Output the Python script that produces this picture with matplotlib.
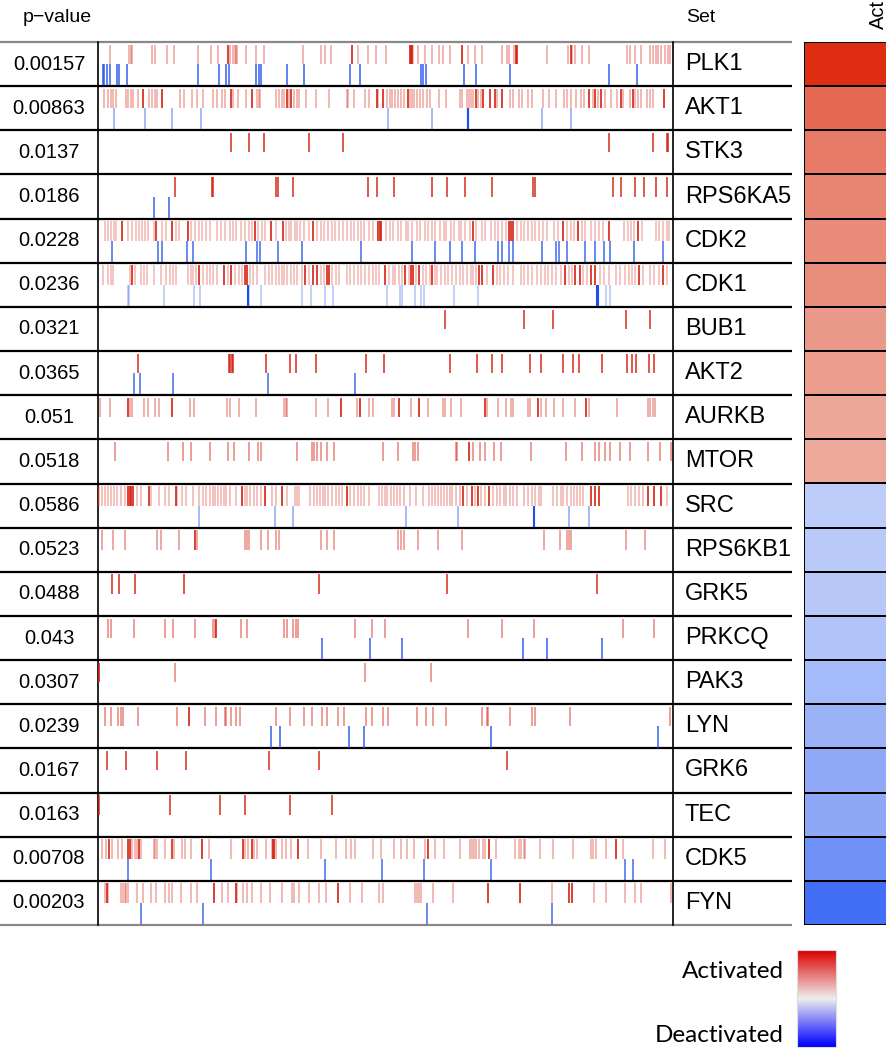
import numpy as np
import matplotlib
matplotlib.use("Agg")
import matplotlib.pyplot as plt
from matplotlib.colors import LinearSegmentedColormap

# kinase sets, p-values and direction (1 = activated, -1 = deactivated)
sets = ["PLK1", "AKT1", "STK3", "RPS6KA5", "CDK2", "CDK1", "BUB1", "AKT2", "AURKB", "MTOR",
        "SRC", "RPS6KB1", "GRK5", "PRKCQ", "PAK3", "LYN", "GRK6", "TEC", "CDK5", "FYN"]
pvals = ["0.00157", "0.00863", "0.0137", "0.0186", "0.0228", "0.0236", "0.0321", "0.0365", "0.051", "0.0518",
         "0.0586", "0.0523", "0.0488", "0.043", "0.0307", "0.0239", "0.0167", "0.0163", "0.00708", "0.00203"]
direction = [1, 1, 1, 1, 1, 1, 1, 1, 1, 1, -1, -1, -1, -1, -1, -1, -1, -1, -1, -1]

# site ranks (out of ~1560) for each set: up = red ticks, dn = blue ticks
plk1_up = [40, 92, 97, 101, 153, 163, 194, 214, 277, 313, 333, 366, 372, 377, 382, 385, 408, 434, 456, 563, 610,
           622, 638, 710, 738, 760, 786, 858, 874, 892, 912, 930, 940, 960, 1007, 1028, 1045, 1100, 1113, 1118,
           1133, 1222, 1278, 1289, 1298, 1315, 1336, 1439, 1445, 1460, 1475, 1500, 1508, 1515, 1522, 1530, 1540,
           1548, 1555]
plk1_up_dark = [360, 694, 851, 853, 856, 993, 1138, 1140, 1285]
plk1_dn = [22, 25, 33, 41, 58, 66, 87, 278, 335, 353, 362, 436, 442, 448, 518, 565, 690, 716, 880, 886, 894,
           998, 1030, 1122, 1390, 1464]

akt1_up = [25, 35, 42, 48, 57, 83, 90, 97, 103, 115, 145, 153, 161, 168, 230, 240, 263, 275, 293, 320, 330, 343,
           352, 372, 386, 408, 437, 443, 447, 490, 498, 505, 512, 524, 537, 545, 550, 570, 598, 632, 680, 685, 700,
           730, 740, 766, 790, 796, 803, 810, 818, 826, 834, 852, 856, 862, 870, 877, 885, 897, 905, 930, 948, 987,
           993, 1005, 1012, 1017, 1022, 1036, 1042, 1087, 1122, 1130, 1145, 1155, 1170, 1182, 1212, 1228, 1246,
           1268, 1276, 1286, 1300, 1313, 1322, 1345, 1360, 1379, 1395, 1410, 1428, 1447, 1460, 1468, 1476, 1491,
           1500, 1508]
akt1_up_dark = [130, 182, 368, 424, 518, 530, 762, 778, 846, 1030, 1048, 1068, 1082, 1100, 1336, 1352, 1368,
                1422, 1453, 1538]
akt1_dn = [50, 135, 208, 287, 792, 912, 1208, 1287]
akt1_dn_dark = [1007, 1009]

stk3_up = [368, 416, 457, 578, 671, 1390, 1507, 1545, 1549]

rps6ka5_up = [216, 316, 320, 490, 495, 536, 737, 762, 808, 910, 950, 999, 1072, 1183, 1190, 1400, 1421, 1460,
              1484, 1517, 1546]
rps6ka5_dn = [158, 200]

cdk2_up = [8, 28, 35, 42, 50, 57, 88, 100, 112, 120, 128, 135, 142, 160, 180, 193, 220, 228, 260, 270, 280, 290,
           300, 312, 330, 340, 350, 365, 372, 380, 394, 405, 415, 425, 440, 450, 460, 490, 515, 523, 530, 540, 545,
           555, 565, 578, 600, 610, 620, 630, 640, 648, 660, 670, 682, 692, 700, 710, 720, 728, 740, 752, 786, 797,
           806, 819, 827, 840, 846, 857, 871, 879, 893, 899, 912, 918, 931, 943, 948, 962, 969, 983, 990, 1001,
           1013, 1030, 1045, 1055, 1070, 1082, 1090, 1100, 1110, 1140, 1150, 1160, 1170, 1180, 1190, 1200, 1212,
           1222, 1240, 1250, 1275, 1285, 1295, 1315, 1325, 1340, 1350, 1362, 1372, 1430, 1440, 1448, 1456, 1478,
           1515, 1525, 1535, 1545, 1552]
cdk2_up_dark = [74, 165, 208, 252, 432, 476, 508, 588, 766, 770, 774, 1022, 1118, 1125, 1130, 1266, 1305, 1388,
                1468]
cdk2_dn = [45, 170, 182, 248, 266, 407, 437, 447, 495, 558, 720, 856, 920, 960, 991, 1028, 1090, 1099, 1119,
           1130, 1208, 1247, 1255, 1276, 1325, 1350, 1375, 1393, 1456, 1536]

cdk1_up = [22, 35, 42, 48, 95, 108, 125, 132, 140, 160, 178, 192, 202, 210, 218, 250, 258, 265, 272, 292, 302,
           310, 320, 330, 358, 378, 388, 396, 420, 428, 438, 460, 470, 478, 488, 496, 505, 512, 520, 530, 538, 545,
           560, 578, 610, 618, 640, 650, 660, 680, 690, 700, 710, 720, 730, 740, 752, 760, 768, 795, 805, 812, 822,
           830, 848, 868, 885, 895, 905, 918, 925, 935, 945, 955, 965, 975, 985, 995, 1005, 1015, 1022, 1030, 1058,
           1085, 1095, 1105, 1115, 1130, 1150, 1160, 1170, 1180, 1195, 1205, 1215, 1225, 1235, 1245, 1258, 1280,
           1290, 1320, 1330, 1365, 1375, 1390, 1408, 1420, 1432, 1443, 1450, 1460, 1480, 1500, 1512, 1525, 1545]
cdk1_up_dark = [100, 282, 348, 368, 405, 412, 568, 588, 600, 626, 632, 785, 838, 855, 860, 876, 912, 1038, 1045,
                1075, 1270, 1298, 1310, 1340, 1350, 1470, 1535]
cdk1_dn = [88, 92, 186, 268, 284, 415, 448, 558, 584, 622, 642, 790, 824, 830, 865, 882, 888, 970, 1035, 1380,
           1392]
cdk1_dn_dark = [413, 1357, 1360]

bub1_up = [945, 1158, 1239, 1434, 1499]

akt2_up = [117, 363, 366, 369, 372, 463, 528, 543, 597, 731, 780, 960, 1032, 1073, 1100, 1175, 1205, 1266, 1292,
           1307, 1370, 1437, 1450, 1462, 1496, 1512]
akt2_dn = [106, 121, 210, 467, 702]

aurkb_up = [14, 40, 94, 101, 131, 143, 163, 172, 256, 268, 356, 364, 389, 434, 510, 516, 520, 598, 630, 707,
            740, 750, 802, 808, 853, 900, 940, 945, 963, 990, 1058, 1090, 1110, 1125, 1130, 1170, 1175, 1206,
            1220, 1240, 1264, 1296, 1334, 1410, 1494, 1500, 1508, 1514]
aurkb_up_dark = [90, 209, 665, 717, 822, 876, 1054, 1196, 1328]

mtor_up = [55, 198, 237, 259, 310, 358, 375, 417, 440, 449, 547, 587, 592, 600, 610, 628, 647, 777, 820, 860,
           865, 872, 975, 978, 1022, 1040, 1055, 1077, 1096, 1178, 1274, 1315, 1352, 1362, 1377, 1392, 1420,
           1447, 1494, 1526, 1556]
mtor_up_dark = [1012]

src_up = [12, 20, 28, 35, 42, 50, 58, 70, 80, 114, 124, 150, 172, 188, 200, 222, 235, 247, 265, 282, 292, 300,
          310, 318, 325, 332, 340, 348, 355, 365, 380, 405, 412, 420, 430, 438, 448, 478, 490, 518, 540, 545, 550,
          580, 592, 600, 608, 615, 622, 630, 640, 650, 660, 668, 690, 700, 710, 720, 728, 740, 768, 775, 783, 790,
          800, 808, 816, 825, 835, 850, 868, 885, 902, 910, 918, 926, 935, 942, 950, 958, 966, 975, 985, 1005,
          1026, 1044, 1054, 1075, 1085, 1095, 1105, 1112, 1122, 1130, 1140, 1160, 1170, 1180, 1190, 1200, 1205,
          1238, 1248, 1258, 1266, 1275, 1285, 1295, 1302, 1310, 1320, 1440, 1448, 1460, 1470, 1480, 1545]
src_up_dark = [8, 90, 94, 98, 102, 147, 218, 398, 460, 505, 682, 995, 1018, 1034, 1066, 1340, 1352, 1363, 1495,
               1510, 1530]
src_dn = [280, 486, 536, 840, 981, 1282, 1335]
src_dn_dark = [1186]

rps6kb1_up = [18, 48, 80, 168, 179, 226, 276, 404, 412, 417, 448, 468, 490, 497, 610, 628, 645, 818, 828, 835,
              873, 926, 991, 1213, 1257, 1275, 1280, 1287, 1436, 1487]
rps6kb1_up_dark = [269]

grk5_up = [46, 64, 109, 240, 605, 951, 1357]

prkcq_up = [35, 42, 105, 188, 211, 270, 318, 323, 394, 410, 512, 519, 534, 542, 549, 703, 749, 785, 1008, 1100,
            1185, 1428, 1512]
prkcq_up_dark = [328]
prkcq_dn = [614, 743, 829, 1156, 1222, 1369]

pak3_up = [216, 729, 908]
pak3_up_dark = [12]

lyn_up = [28, 42, 63, 70, 75, 117, 222, 297, 327, 350, 355, 368, 380, 391, 489, 528, 564, 586, 613, 626, 656,
          674, 733, 749, 777, 793, 871, 894, 913, 948, 1047, 1058, 1062, 1121, 1182, 1189, 1283, 1553]
lyn_up_dark = [253]
lyn_dn = [476, 501, 686, 727, 1069, 1522]

grk6_up = [33, 84, 167, 245, 470, 605, 1114]

tec_up = [10, 203, 339, 404, 527, 641]

cdk5_up = [18, 30, 47, 62, 72, 100, 108, 114, 124, 158, 162, 167, 190, 213, 235, 243, 258, 308, 368, 404, 414,
           430, 437, 462, 477, 490, 505, 515, 530, 575, 612, 650, 677, 693, 703, 752, 772, 807, 828, 843, 862,
           892, 920, 942, 985, 1013, 1018, 1025, 1030, 1038, 1048, 1055, 1083, 1135, 1145, 1152, 1158, 1163, 1203,
           1238, 1292, 1340, 1346, 1355, 1380, 1427, 1508, 1540]
cdk5_up_dark = [38, 90, 94, 120, 208, 288, 400, 425, 480, 485, 548, 900, 1064, 1409]
cdk5_dn = [90, 313, 622, 775, 889, 1070, 1431, 1454]

fyn_up = [28, 35, 70, 75, 80, 85, 90, 114, 130, 150, 165, 190, 200, 208, 232, 260, 275, 343, 360, 384, 400,
          412, 425, 448, 472, 505, 532, 537, 550, 578, 604, 625, 690, 722, 767, 777, 864, 870, 875, 880, 914, 968,
          1236, 1348, 1380, 1433, 1460, 1475, 1556]
fyn_up_dark = [31, 322, 380, 656, 1062, 1148, 1282, 1290]
fyn_dn = [124, 292, 897, 1236]

# (up, up_dark, dn, dn_dark) per row, same order as sets
rows = [
    (plk1_up, plk1_up_dark, plk1_dn, []),
    (akt1_up, akt1_up_dark, akt1_dn, akt1_dn_dark),
    (stk3_up, [], [], []),
    (rps6ka5_up, [], rps6ka5_dn, []),
    (cdk2_up, cdk2_up_dark, cdk2_dn, []),
    (cdk1_up, cdk1_up_dark, cdk1_dn, cdk1_dn_dark),
    (bub1_up, [], [], []),
    (akt2_up, [], akt2_dn, []),
    (aurkb_up, aurkb_up_dark, [], []),
    (mtor_up, mtor_up_dark, [], []),
    (src_up, src_up_dark, src_dn, src_dn_dark),
    (rps6kb1_up, rps6kb1_up_dark, [], []),
    (grk5_up, [], [], []),
    (prkcq_up, prkcq_up_dark, prkcq_dn, []),
    (pak3_up, pak3_up_dark, [], []),
    (lyn_up, lyn_up_dark, lyn_dn, []),
    (grk6_up, [], [], []),
    (tec_up, [], [], []),
    (cdk5_up, cdk5_up_dark, cdk5_dn, []),
    (fyn_up, fyn_up_dark, fyn_dn, []),
]
# tick transparency for the light ticks of each row
red_alpha = [0.42, 0.4, 0.95, 0.95, 0.32, 0.32, 0.95, 0.95, 0.45, 0.55,
             0.35, 0.5, 0.95, 0.55, 0.55, 0.55, 0.95, 0.95, 0.4, 0.4]
blue_alpha = [0.9, 0.5, 0.9, 0.9, 0.85, 0.35, 0.9, 0.85, 0.9, 0.9,
              0.5, 0.9, 0.9, 0.9, 0.9, 0.9, 0.9, 0.9, 0.85, 0.85]

RED = "#d42010"
BLUE = "#1f4fe8"
W, H = 886, 1050
TOP, BOT = 42, 925
n = len(sets)
row_h = (BOT - TOP) / n

scores = [d * -np.log10(float(p)) for d, p in zip(direction, pvals)]
heat_cmap = LinearSegmentedColormap.from_list(
    "act", [(0, "#2a5af6"), (0.3167, "#c8d5f8"), (0.5, "#ffffff"), (0.6833, "#eeb8ab"), (1, "#dc1e00")])
legend_cmap = LinearSegmentedColormap.from_list("leg", ["#0000ff", "#efefef", "#dd0000"])

plt.rcParams['font.family'] = ['Liberation Sans', 'DejaVu Sans']


def rect(x0, y0, x1, y1):
    return [x0 / W, 1 - y1 / H, (x1 - x0) / W, (y1 - y0) / H]


fig = plt.figure(figsize=(W / 100, H / 100), dpi=100)

base = fig.add_axes([0, 0, 1, 1])
base.set_xlim(0, W)
base.set_ylim(H, 0)
base.axis('off')

# barcode panel
bar = fig.add_axes(rect(98, TOP, 673, BOT))
bar.set_xlim(8, 1562)
bar.set_ylim(n, 0)
bar.axis('off')
for i, (up, up_dark, dn, dn_dark) in enumerate(rows):
    if up:
        bar.vlines(up, i + 0.06, i + 0.5, color=RED, alpha=red_alpha[i], lw=1.1)
    if up_dark:
        bar.vlines(up_dark, i + 0.06, i + 0.5, color=RED, alpha=0.85, lw=1.4)
    if dn:
        bar.vlines(dn, i + 0.5, i + 0.98, color=BLUE, alpha=blue_alpha[i], lw=1.1)
    if dn_dark:
        bar.vlines(dn_dark, i + 0.5, i + 0.98, color=BLUE, alpha=1.0, lw=1.5)

# table lines
for i in range(n + 1):
    y = TOP + i * row_h
    col = "#888888" if i in (0, n) else "black"
    base.plot([0, 792], [y, y], color=col, lw=1.6, solid_capstyle='butt')
for x in (98, 673):
    base.plot([x, x], [TOP, BOT], color="black", lw=1.2)

# labels
base.text(57, 17, "p\u2212value", ha='center', va='center', fontsize=14)
base.text(686, 17, "Set", ha='left', va='center', fontsize=14)
for i in range(n):
    yc = TOP + (i + 0.5) * row_h
    base.text(49, yc, pvals[i], ha='center', va='center', fontsize=14.5)
    base.text(685, yc, sets[i], ha='left', va='center', fontsize=17)
base.text(878, 29, "Act", rotation=90, ha='center', va='bottom', fontsize=14.5)

# activity heatmap column
hm = fig.add_axes(rect(804, TOP, 888, BOT))
hm.pcolormesh(np.array(scores).reshape(-1, 1), cmap=heat_cmap, vmin=-3, vmax=3,
              edgecolors='black', linewidth=1.2)
hm.set_ylim(n, 0)
hm.axis('off')

# colour legend
lg = fig.add_axes(rect(797, 950, 836, 1047))
lg.imshow(np.linspace(1, -1, 100).reshape(-1, 1), cmap=legend_cmap, aspect='auto', vmin=-1, vmax=1)
lg.set_xticks([])
lg.set_yticks([])
for s in lg.spines.values():
    s.set_color("#dddddd")
base.text(784, 972, "Activated", ha='right', va='center', fontsize=17.5, family=['Lato', 'DejaVu Sans'])
base.text(784, 1035, "Deactivated", ha='right', va='center', fontsize=17.5, family=['Lato', 'DejaVu Sans'])

fig.savefig("out.png", dpi=100)
